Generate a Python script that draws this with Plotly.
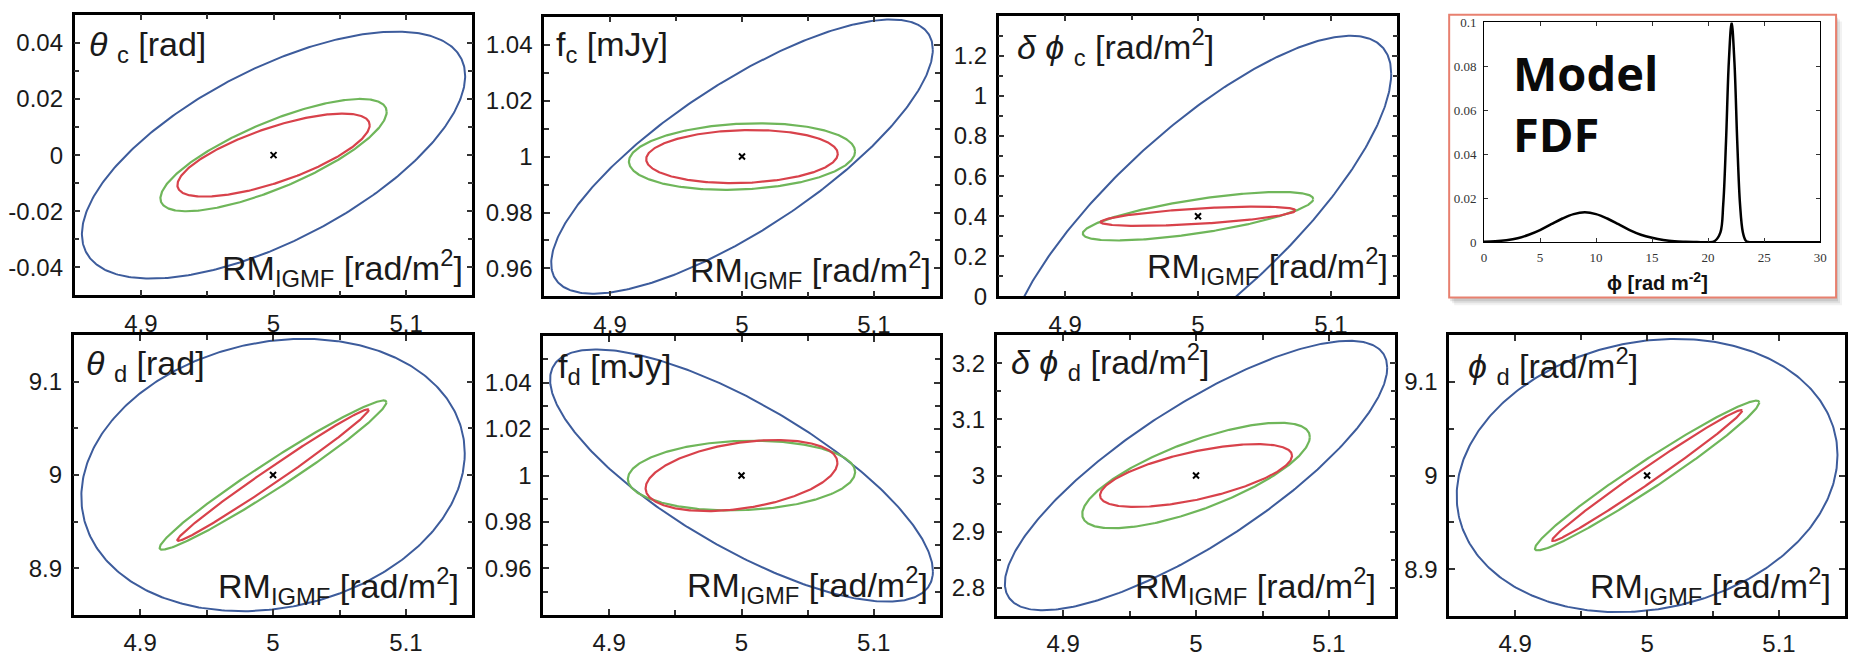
import numpy as np
import plotly.graph_objects as go

W, H = 1856, 657

# ---------------- data ----------------
PANEL_LABELS = [
    "<i>θ</i> <sub>c</sub> [rad]",
    "f<sub>c</sub> [mJy]",
    "<i>δ</i> <i>ϕ</i> <sub>c</sub> [rad/m<sup>2</sup>]",
    "<i>θ</i> <sub>d</sub> [rad]",
    "f<sub>d</sub> [mJy]",
    "<i>δ</i> <i>ϕ</i> <sub>d</sub> [rad/m<sup>2</sup>]",
    "<i>ϕ</i> <sub>d</sub> [rad/m<sup>2</sup>]",
]
X_TITLE = "RM<sub>IGMF</sub> [rad/m<sup>2</sup>]"

# fiducial values (centre of each contour set)
CENTER_X = [5.0, 5.0, 5.0, 5.0, 5.0, 5.0, 5.0]
CENTER_Y = [0.0, 1.0, 0.4, 9.0, 1.0, 3.0, 9.0]

# contour half-extents along each axis and correlation coefficient
BLUE_HALF_X = [0.1445, 0.1446, 0.1453, 0.1442, 0.1447, 0.1438, 0.1443]
BLUE_HALF_Y = [0.044, 0.049, 0.90, 0.146, 0.0543, 0.240, 0.146]
BLUE_RHO = [0.64, 0.78, 0.79, 0.16, -0.76, 0.80, 0.15]

GREEN_HALF_X = [0.0853, 0.0857, 0.0867, 0.0853, 0.0859, 0.0856, 0.0850]
GREEN_HALF_Y = [0.020, 0.0119, 0.121, 0.080, 0.0150, 0.094, 0.080]
GREEN_RHO = [0.77, 0.15, 0.71, 0.975, 0.10, 0.73, 0.975]

RED_HALF_X = [0.0725, 0.0726, 0.0733, 0.0720, 0.0725, 0.0722, 0.0720]
RED_HALF_Y = [0.0148, 0.0095, 0.048, 0.0705, 0.0153, 0.056, 0.070]
RED_RHO = [0.72, 0.10, 0.60, 0.99, 0.36, 0.63, 0.99]

X_RANGE = [4.85, 5.15]
X_TICK_VALUES = [4.9, 5.0, 5.1]
X_TICK_TEXT = ["4.9", "5", "5.1"]

Y_RANGES = [[-0.05, 0.05], [0.95, 1.05], [0.0, 1.4], [8.85, 9.15],
            [0.94, 1.06], [2.75, 3.25], [8.85, 9.15]]
Y_TICK_VALUES = [
    [-0.04, -0.02, 0.0, 0.02, 0.04],
    [0.96, 0.98, 1.0, 1.02, 1.04],
    [0.0, 0.2, 0.4, 0.6, 0.8, 1.0, 1.2],
    [8.9, 9.0, 9.1],
    [0.96, 0.98, 1.0, 1.02, 1.04],
    [2.8, 2.9, 3.0, 3.1, 3.2],
    [8.9, 9.0, 9.1],
]
Y_TICK_TEXT = [
    ["-0.04", "-0.02", "0", "0.02", "0.04"],
    ["0.96", "0.98", "1", "1.02", "1.04"],
    ["0", "0.2", "0.4", "0.6", "0.8", "1", "1.2"],
    ["8.9", "9", "9.1"],
    ["0.96", "0.98", "1", "1.02", "1.04"],
    ["2.8", "2.9", "3", "3.1", "3.2"],
    ["8.9", "9", "9.1"],
]
Y_MINOR_STEP = [0.01, 0.01, 0.1, 0.05, 0.01, 0.05, 0.05]

# model Faraday dispersion function
FDF_PHI = [0, 1, 2, 3, 4, 5, 6, 7, 8, 9, 10, 11, 12, 13, 14, 15, 16, 17, 18,
           19, 20, 20.6, 21.1, 21.35, 21.6, 21.85, 22.1, 22.35, 22.6, 22.85,
           23.1, 23.35, 23.6, 24, 25, 26, 27, 28, 29, 30]
FDF_VALUE = [0.0002, 0.0004, 0.0009, 0.0018, 0.0034, 0.0055, 0.0082, 0.0108,
             0.0128, 0.0136, 0.0128, 0.0108, 0.0082, 0.0055, 0.0034, 0.0020,
             0.0010, 0.0004, 0.0002, 0.0001, 0.0, 0.0006, 0.0045, 0.0172,
             0.046, 0.082, 0.100, 0.082, 0.046, 0.0172, 0.0045, 0.0008,
             0.0001, 0.0, 0.0, 0.0, 0.0, 0.0, 0.0, 0.0]
FDF_X_TICKS = [0, 5, 10, 15, 20, 25, 30]
FDF_Y_TICKS = [0, 0.02, 0.04, 0.06, 0.08, 0.1]
FDF_Y_TEXT = ["0", "0.02", "0.04", "0.06", "0.08", "0.1"]

# ---------------- layout geometry (pixels) ----------------
FRAMES = [(72, 8, 472, 298), (544, 10, 942, 299), (1001, 9, 1402, 299),
          (71, 339, 472, 628), (543, 340, 942, 628), (999, 339, 1400, 629),
          (1454, 339, 1852, 629)]
LABEL_POS = [(84, 41), (554, 41), (1017, 41), (81, 370), (556, 373),
             (1011, 367), (1471, 371)]
TITLE_POS = [(464, 270), (935, 272), (1395, 268), (460, 598), (932, 597),
             (1382, 598), (1840, 598)]
INSET_BOX = (1454, 8, 1843, 300)
INSET_AXES = (1489, 16, 1827, 243)

BLUE = "#3d5c9c"
GREEN = "#6fb65a"
RED = "#d8424b"
TEXT_FONT = "Liberation Sans, Arial, sans-serif"


def px_x(v):
    return v / W


def px_y(v):
    return 1 - v / H


def contour(cx, cy, a, b, rho, n=400):
    t = np.linspace(0, 2 * np.pi, n)
    xs = cx + a * np.cos(t)
    ys = cy + b * (rho * np.cos(t) + np.sqrt(1 - rho ** 2) * np.sin(t))
    return xs, ys


fig = go.Figure()
layout = dict(
    width=W, height=H, autosize=False,
    margin=dict(l=0, r=0, t=0, b=0),
    paper_bgcolor="white", plot_bgcolor="white",
    showlegend=False,
)
annotations = []
shapes = []

for i in range(7):
    n = i + 1
    xa = "x" if n == 1 else f"x{n}"
    ya = "y" if n == 1 else f"y{n}"
    left, top, right, bottom = FRAMES[i]

    for a_list, b_list, r_list, col, lw in (
        (BLUE_HALF_X, BLUE_HALF_Y, BLUE_RHO, BLUE, 2.0),
        (GREEN_HALF_X, GREEN_HALF_Y, GREEN_RHO, GREEN, 2.2),
        (RED_HALF_X, RED_HALF_Y, RED_RHO, RED, 2.2),
    ):
        xs, ys = contour(CENTER_X[i], CENTER_Y[i], a_list[i], b_list[i], r_list[i])
        fig.add_trace(go.Scatter(x=xs, y=ys, mode="lines", xaxis=xa, yaxis=ya,
                                 line=dict(color=col, width=lw),
                                 hoverinfo="skip"))
    fig.add_trace(go.Scatter(x=[CENTER_X[i]], y=[CENTER_Y[i]], mode="markers",
                             xaxis=xa, yaxis=ya,
                             marker=dict(symbol="x-thin", size=6,
                                         line=dict(color="black", width=2)),
                             hoverinfo="skip"))

    common = dict(showline=True, linecolor="black", linewidth=2.5,
                  mirror="allticks", ticks="inside", ticklen=6, tickwidth=1.5,
                  tickcolor="#333", showgrid=False, zeroline=False,
                  tickfont=dict(family=TEXT_FONT, size=24, color="#1a1a1a"),
                  fixedrange=True)
    layout["xaxis" if n == 1 else f"xaxis{n}"] = dict(
        common, domain=[px_x(left), px_x(right)], anchor=ya,
        range=X_RANGE, tickmode="array", tickvals=X_TICK_VALUES,
        ticktext=X_TICK_TEXT, ticklabelstandoff=5,
        minor=dict(tickmode="linear", tick0=4.85, dtick=0.05, ticks="inside",
                   ticklen=5, tickwidth=1.5, tickcolor="#333"),
    )
    layout["yaxis" if n == 1 else f"yaxis{n}"] = dict(
        common, domain=[px_y(bottom), px_y(top)], anchor=xa,
        range=Y_RANGES[i], tickmode="array", tickvals=Y_TICK_VALUES[i],
        ticktext=Y_TICK_TEXT[i], ticklabelstandoff=4,
        minor=dict(tickmode="linear", tick0=Y_TICK_VALUES[i][0],
                   dtick=Y_MINOR_STEP[i], ticks="inside", ticklen=5,
                   tickwidth=1.5, tickcolor="#333"),
    )

    lx, ly = LABEL_POS[i]
    annotations.append(dict(text=PANEL_LABELS[i], x=px_x(lx), y=px_y(ly),
                            xref="paper", yref="paper", xanchor="left",
                            yanchor="middle", showarrow=False,
                            font=dict(family=TEXT_FONT, size=34, color="#1a1a1a")))
    tx, ty = TITLE_POS[i]
    annotations.append(dict(text=X_TITLE, x=px_x(tx), y=px_y(ty),
                            xref="paper", yref="paper", xanchor="right",
                            yanchor="middle", showarrow=False,
                            font=dict(family=TEXT_FONT, size=34, color="#1a1a1a")))

# ---------------- inset: model FDF ----------------
bl, bt, br, bb = INSET_BOX
for off, alpha in [(7, 0.05), (5, 0.07), (3, 0.10)]:
    shapes.append(dict(type="rect", xref="paper", yref="paper", layer="below",
                       x0=px_x(bl + off - 2), x1=px_x(br + off - 1),
                       y0=px_y(bb + off + 1), y1=px_y(bt + off),
                       line=dict(width=0),
                       fillcolor=f"rgba(0,0,0,{alpha})"))
shapes.append(dict(type="rect", xref="paper", yref="paper", layer="below",
                   x0=px_x(bl), x1=px_x(br), y0=px_y(bb), y1=px_y(bt),
                   line=dict(color="#e8806f", width=2), fillcolor="white"))

fig.add_trace(go.Scatter(x=FDF_PHI, y=FDF_VALUE, mode="lines",
                         xaxis="x8", yaxis="y8", line_shape="spline",
                         line=dict(color="black", width=2.5), hoverinfo="skip"))
il, it, ir, ib = INSET_AXES
inset_common = dict(showline=True, linecolor="black", linewidth=1,
                    mirror="allticks", ticks="inside", ticklen=4, tickwidth=1,
                    tickcolor="#333", showgrid=False, zeroline=False,
                    tickfont=dict(family="Liberation Serif, Times New Roman, serif",
                                  size=13, color="#333"),
                    fixedrange=True)
layout["xaxis8"] = dict(inset_common, domain=[px_x(il), px_x(ir)], anchor="y8",
                        range=[0, 30], tickmode="array", tickvals=FDF_X_TICKS,
                        ticktext=[str(v) for v in FDF_X_TICKS],
                        ticklabelstandoff=3)
layout["yaxis8"] = dict(inset_common, domain=[px_y(ib), px_y(it)], anchor="x8",
                        range=[0, 0.1], tickmode="array", tickvals=FDF_Y_TICKS,
                        ticktext=FDF_Y_TEXT, ticklabelstandoff=4)

annotations.append(dict(text="<b>ϕ [rad m<sup>-2</sup>]</b>", x=px_x(1663),
                        y=px_y(284), xref="paper", yref="paper",
                        xanchor="center", yanchor="middle", showarrow=False,
                        font=dict(family=TEXT_FONT, size=20, color="#111")))
annotations.append(dict(text="<b>Model</b>", x=px_x(1516), y=px_y(68),
                        xref="paper", yref="paper", xanchor="left",
                        yanchor="middle", showarrow=False,
                        font=dict(family="Open Sans, sans-serif", size=47,
                                  color="#0a0a0a")))
annotations.append(dict(text="<b>FDF</b>", x=px_x(1516), y=px_y(131),
                        xref="paper", yref="paper", xanchor="left",
                        yanchor="middle", showarrow=False,
                        font=dict(family="Open Sans, sans-serif", size=47,
                                  color="#0a0a0a")))

layout["annotations"] = annotations
layout["shapes"] = shapes
fig.update_layout(**layout)

fig.write_html("out.html")
